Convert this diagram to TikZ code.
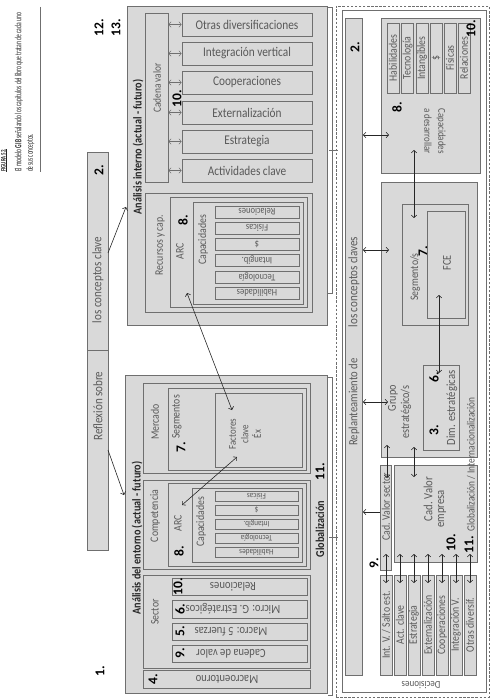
\documentclass[tikz,border=0pt]{standalone}
\usepackage{fontspec}
\setmainfont{Carlito}[FakeStretch=0.85]
\newfontfamily\numf{Carlito}
\usetikzlibrary{arrows.meta,fit}
\definecolor{bx}{HTML}{D9D9D9}
\definecolor{bd}{HTML}{6F6F6F}
\definecolor{tx}{HTML}{595959}
\definecolor{hd}{HTML}{262626}
\newcommand\twh[3]{\resizebox{#1pt}{#2pt}{#3}}
\newcommand\fz[1]{\fontsize{#1}{#1}\selectfont}
\newcommand\mybox[5]{\node[bxs, fit={(#2,#3) (#4,#5)}] (#1) {};}
\tikzset{
 bxs/.style={draw=bd, fill=bx, line width=0.7pt, inner sep=0pt},
 lab/.style={text=tx, inner sep=0pt, font=\fz{11.5}},
 hz/.style={lab},
 up/.style={lab, rotate=90},
 dn/.style={lab, rotate=-90},
 inv/.style={lab, rotate=180},
 num/.style={inner sep=0pt, rotate=90, text=black, font=\numf\bfseries\fontsize{13.5}{14}\selectfont},
 ttl/.style={up, text=hd, font=\bfseries\fz{12}},
 dar/.style={<->, line width=0.6pt, draw=black!85},
 sar/.style={->, line width=0.6pt, draw=black!85},
 gar/.style={<->, line width=0.45pt, draw=bd},
 brk/.style={draw=bd, line width=0.6pt},
}
\begin{document}
\begin{tikzpicture}[x=1pt,y=-1pt, >={Straight Barb[length=2.5pt,width=5.5pt]}]
\useasboundingbox (0,0) rectangle (490,700);
\fill[white] (0,0) rectangle (490,700);

% ---------- header ----------
\node[up, anchor=west, text=hd] (fig) at (4,172) {\twh{23}{4.5}{\bfseries\underline{FIGURA 52.}}};
\node[up, anchor=west, text=hd] (h1) at (19,172) {\twh{159}{6.5}{El modelo \textbf{GIB} señalando los capítulos del libro que tratan de cada uno}};
\node[up, anchor=west, text=hd] (h2) at (30.5,172) {\twh{38}{6.5}{de sus conceptos.}};
\draw[bd, line width=0.8pt] (40,7) -- (40,172);

\node[num] (n12) at (99,28) {12.};
\node[num] (n13) at (116,28) {13.};
\node[num] (n1) at (100,671) {1.};

% ---------- left bar ----------
\mybox{lb1}{87}{152}{108}{350}
\mybox{lb2}{87}{350}{108}{550}
\node[up, font=\fz{13}] (lbt1) at (98,280) {los conceptos clave};
\node[up, font=\fz{13}] (lbt2) at (98,406) {Reflexión sobre};
\node[num] (n2a) at (99,170) {2.};

% ---------- analisis interno ----------
\mybox{int}{127}{6}{327}{325}
\node[ttl] (tint) at (138,147) {Análisis interno (actual - futuro)};
\mybox{cv}{145}{13}{168}{182}
\node[up, font=\fz{11}] (cvt) at (157,88) {Cadena valor};
\mybox{od}{182}{13}{312}{36}
\mybox{iv}{182}{42}{312}{65}
\mybox{co}{182}{71}{312}{94}
\mybox{ex}{182}{101}{312}{124}
\mybox{es}{182}{130}{312}{153}
\mybox{ac}{182}{159}{312}{182}
\node[hz, font=\fz{13.3}] (odt) at (od) {Otras diversificaciones};
\node[hz, font=\fz{13.3}] (ivt) at (iv) {Integración vertical};
\node[hz, font=\fz{13.3}] (cot) at (co) {Cooperaciones};
\node[hz, font=\fz{13.3}] (ext) at (ex) {Externalización};
\node[hz, font=\fz{13.3}] (est) at (es) {Estrategia};
\node[hz, font=\fz{13.3}] (act) at (ac) {Actividades clave};
\foreach \b in {od,iv,co,ex,es,ac} {\draw[gar] (cv.east |- \b.center) -- (\b.west);}
\node[num] (n10a) at (177,99) {10.};

\mybox{rc}{145}{193}{312}{312}
\node[up] (rct) at (160,245) {Recursos y cap.};
\mybox{arci}{170}{197}{307}{307}
\node[up] (arcit) at (180,251) {ARC};
\node[num] (n8a) at (183,220) {8.};
\mybox{capi}{193}{202}{303}{304}
\node[up] (capit) at (203,240) {Capacidades};
\mybox{ci1}{215}{206}{299}{218}
\mybox{ci2}{215}{222}{299}{234}
\mybox{ci3}{215}{238}{299}{250}
\mybox{ci4}{215}{254}{299}{266}
\mybox{ci5}{215}{271}{299}{283}
\mybox{ci6}{215}{287}{299}{299}
\node[inv, font=\fz{10}] (ci1t) at (ci1) {Relaciones};
\node[inv, font=\fz{10}] (ci2t) at (ci2) {Físicas};
\node[inv, font=\fz{10}] (ci3t) at (ci3) {\$};
\node[inv, font=\fz{10}] (ci4t) at (ci4) {Intangib.};
\node[inv, font=\fz{10}] (ci5t) at (ci5) {Tecnología};
\node[inv, font=\fz{10}] (ci6t) at (ci6) {Habilidades};

\draw[brk] (328,7) -- (332,7) -- (332,293) -- (328,293);
\draw[brk] (329,150) -- (338,150);

% ---------- analisis del entorno ----------
\mybox{ent}{125}{375}{327}{693}
\node[ttl] (tent) at (137,538) {Análisis del entorno (actual - futuro)};
\mybox{mer}{143}{383}{310}{473}
\node[up] (mert) at (155,422) {Mercado};
\mybox{seg}{168}{388}{306}{470}
\node[up] (segt) at (177,417) {Segmentos};
\node[num] (n7a) at (181,447) {7.};
\mybox{fac}{215}{393}{302}{467}
\node[up, align=center, font=\fontsize{10.5}{12.5}\selectfont] (fact) at (245,434) {Factores\\clave\\Éx};

\mybox{com}{143}{480}{310}{569}
\node[up] (comt) at (155,516) {Competencia};
\mybox{arce}{168}{483}{306}{566}
\node[up] (arcet) at (178,523) {ARC};
\node[num] (n8b) at (179,551) {8.};
\mybox{cape}{192}{488}{302}{562}
\node[up] (capet) at (201,522) {Capacidades};
\mybox{ce1}{215}{491}{298}{501}
\mybox{ce2}{215}{505}{298}{515}
\mybox{ce3}{215}{519}{298}{529}
\mybox{ce4}{215}{533}{298}{543}
\mybox{ce5}{215}{547}{298}{557}
\node[inv, font=\fz{8.5}] (ce1t) at (ce1) {Físicas};
\node[inv, font=\fz{8.5}] (ce2t) at (ce2) {\$};
\node[inv, font=\fz{8.5}] (ce3t) at (ce3) {Intangib.};
\node[inv, font=\fz{8.5}] (ce4t) at (ce4) {Tecnología};
\node[inv, font=\fz{8.5}] (ce5t) at (ce5) {Habilidades};

\mybox{sec}{143}{575}{310}{668}
\node[up] (sect) at (155,612) {Sector};
\mybox{s1}{172}{578}{307}{595}
\mybox{s2}{172}{600}{307}{618}
\mybox{s3}{172}{623}{307}{640}
\mybox{s4}{172}{645}{307}{662}
\node[inv, font=\fz{12.5}] (s1t) at (233,586.5) {Relaciones};
\node[inv, font=\fz{12.5}] (s2t) at (233,609) {Micro: G. Estratégicos};
\node[inv, font=\fz{12.5}] (s3t) at (231,631.5) {Macro: 5 fuerzas};
\node[inv, font=\fz{12.5}] (s4t) at (231,653.5) {Cadena de valor};
\node[num] (n10b) at (178,586.5) {10.};
\node[num] (n6a) at (180,609) {6.};
\node[num] (n5a) at (180,631.5) {5.};
\node[num] (n9a) at (180,653.5) {9.};

\mybox{mac}{143}{670}{310}{688}
\node[inv, font=\fz{12.5}] (mact) at (227,679) {Macroentorno};
\node[num] (n4a) at (153,679) {4.};

\node[ttl] (glob) at (320,529) {Globalización};
\node[num] (n11a) at (320,472) {11.};

\draw[brk] (328,377) -- (332,377) -- (332,695) -- (328,695);
\draw[brk] (329,537) -- (338,537);

% ---------- left arrows ----------
\coordinate (a1s) at (108,253); \coordinate (a1e) at (126,207);
\coordinate (a2s) at (108,450); \coordinate (a2e) at (124,495);
\draw[sar] (a1s) -- (a1e);
\draw[sar] (a2s) -- (a2e);
\coordinate (l1a) at (187,293); \coordinate (l1b) at (232,410);
\draw[dar] (l1a) -- (l1b);
\coordinate (l2a) at (237,457); \coordinate (l2b) at (182,505);
\draw[dar] (l2a) -- (l2b);

% ---------- right part: decisiones ----------
\node[draw=bd, dashed, dash pattern=on 2.5pt off 1.6pt, line width=0.6pt, inner sep=0pt, fit={(336,6) (489,697)}] (dsh) {};
\node[draw=bd, fill=white, line width=0.7pt, inner sep=0pt, fit={(342,10) (486,692)}] (dec) {};
\node[inv, font=\fz{10.5}] (dect) at (421,685) {Decisiones};

\mybox{rb}{345}{18}{362}{675}
\node[up, font=\fz{12.5}] (rbt1) at (354,402) {Replanteamiento de};
\node[up, font=\fz{13}] (rbt2) at (354,282) {los conceptos claves};
\node[num] (n2b) at (355,47) {2.};

\mybox{cd}{381}{18}{480}{173}
\node[dn, align=center, font=\fontsize{10.5}{14}\selectfont] (cdt) at (435,131) {Capacidades\\a desarrollar};
\node[num] (n8c) at (397,107) {8.};
\mybox{k1}{387}{23}{399}{93}
\mybox{k2}{401.5}{23}{413.5}{93}
\mybox{k3}{416}{23}{428}{93}
\mybox{k4}{430}{23}{442}{93}
\mybox{k5}{444}{23}{456}{93}
\mybox{k6}{458}{23}{470}{93}
\node[up] (k1t) at (k1) {Habilidades};
\node[up] (k2t) at (k2) {Tecnología};
\node[up] (k3t) at (k3) {Intangibles};
\node[up] (k4t) at (k4) {\$};
\node[up] (k5t) at (k5) {Físicas};
\node[up] (k6t) at (k6) {Relaciones};
\node[num] (n10c) at (471,29) {10.};

\mybox{gr}{381}{182}{477}{457}
\mybox{sg}{402}{204}{468}{325}
\node[up, font=\fz{11.5}] (sgt) at (415,277) {Segmento/s};
\node[num] (n7b) at (423,251) {7.};
\mybox{fce}{427}{211}{465}{318}
\node[up, font=\fz{12}] (fcet) at (447,263) {FCE};
\node[up, font=\fz{12}] (grt1) at (393,398) {Grupo};
\node[up, font=\fz{12}] (grt2) at (406,412) {estratégico/s};
\mybox{dim}{423}{365}{459}{450}
\node[up, font=\fz{12.5}] (dimt) at (452,408) {Dim. estratégicas};
\node[num] (n6b) at (434,377) {6.};
\node[num] (n3a) at (434,430) {3.};

\mybox{cvs}{380}{465}{391}{570}
\node[up] (cvst) at (386,507) {Cad. Valor sector};
\mybox{cve}{394}{465}{477}{562}
\node[up, font=\fz{12.5}] (cvet1) at (428,499) {Cad. Valor};
\node[up, font=\fz{12.5}] (cvet2) at (442,509) {empresa};
\node[num] (n10d) at (451,543) {10.};
\node[up, anchor=west, font=\fz{11}] (globt) at (471,532) {Globalización / Internacionalización};
\node[num] (n11b) at (469,545) {11.};
\node[num] (n9b) at (374,563) {9.};

% bottom seven boxes
\mybox{b1}{380}{575}{392}{675}
\mybox{b2}{394}{575}{406}{675}
\mybox{b3}{408}{575}{420}{675}
\mybox{b4}{422}{575}{434}{675}
\mybox{b5}{436}{575}{448}{675}
\mybox{b6}{450}{575}{462}{675}
\mybox{b7}{464}{575}{476}{675}
\node[up] (b1t) at (b1) {Int. V. / Salto est.};
\node[up] (b2t) at (b2) {Act. clave};
\node[up] (b3t) at (b3) {Estrategia};
\node[up] (b4t) at (b4) {Externalización};
\node[up] (b5t) at (b5) {Cooperaciones};
\node[up] (b6t) at (b6) {Integración V.};
\node[up] (b7t) at (b7) {Otras diversif.};

% right arrows
\coordinate (r1a) at (363,135); \coordinate (r1b) at (389,135);
\coordinate (r2a) at (363,250); \coordinate (r2b) at (389,250);
\coordinate (r3a) at (363,402); \coordinate (r3b) at (388,402);
\coordinate (r4a) at (414,150); \coordinate (r4b) at (414,218);
\coordinate (r5a) at (439,295); \coordinate (r5b) at (439,373);
\coordinate (r6a) at (380,512); \coordinate (r6b) at (363,512);
\coordinate (r7a) at (387,445); \coordinate (r7b) at (387,478);
\coordinate (r8a) at (414,447); \coordinate (r8b) at (414,477);
\draw[dar] (r1a) -- (r1b);
\draw[dar] (r2a) -- (r2b);
\draw[dar] (r3a) -- (r3b);
\draw[dar] (r4a) -- (r4b);
\draw[dar] (r5a) -- (r5b);
\draw[sar] (r6a) -- (r6b);
\draw[dar] (r7a) -- (r7b);
\draw[dar] (r8a) -- (r8b);
\foreach \b in {b1,b2,b3,b4,b5,b6,b7} {\draw[dar] (\b.north |- 0,554) -- (\b.north |- 0,583);}
\end{tikzpicture}
\end{document}
